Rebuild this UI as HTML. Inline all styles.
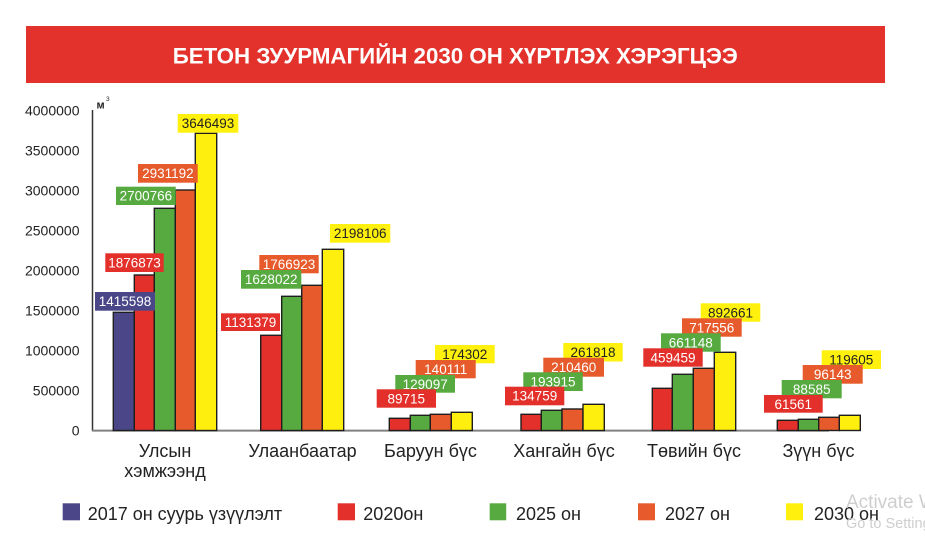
<!DOCTYPE html>
<html><head><meta charset="utf-8"><style>
html,body{margin:0;padding:0;background:#fff;}
svg{display:block;}
text{font-family:"Liberation Sans",Arial,sans-serif;}
</style></head><body>
<svg width="925" height="554" viewBox="0 0 925 554" xmlns="http://www.w3.org/2000/svg">
<rect x="0" y="0" width="925" height="554" fill="#fff"/>
<!-- title banner -->
<rect x="26" y="26" width="859" height="57" fill="#e3312b"/>
<text x="172.7" y="63.3" font-size="22.3" font-weight="bold" fill="#fff" textLength="565" lengthAdjust="spacingAndGlyphs">БЕТОН ЗУУРМАГИЙН 2030 ОН ХҮРТЛЭХ ХЭРЭГЦЭЭ</text>

<!-- y tick labels -->
<g font-size="14" fill="#222" text-anchor="end">
<text x="79.5" y="115.5">4000000</text>
<text x="79.5" y="155.5">3500000</text>
<text x="79.5" y="195.5">3000000</text>
<text x="79.5" y="235.5">2500000</text>
<text x="79.5" y="275.5">2000000</text>
<text x="79.5" y="315.5">1500000</text>
<text x="79.5" y="355.5">1000000</text>
<text x="79.5" y="395.5">500000</text>
<text x="79.5" y="435.5">0</text>
</g>
<!-- unit -->
<text x="96.5" y="108.5" font-size="11" font-weight="bold" fill="#222">м</text>
<text x="106" y="101" font-size="6.5" fill="#222">3</text>

<!-- axes -->
<line x1="92.5" y1="110" x2="92.5" y2="431" stroke="#333" stroke-width="1.5"/>
<line x1="92" y1="430.6" x2="829" y2="430.6" stroke="#808080" stroke-width="2"/>

<!-- bars -->
<g stroke="#1e1e1e" stroke-width="1.4">
<rect x="113.3" y="312.3" width="21" height="118.2" fill="#4a4687"/>
<rect x="134.3" y="275" width="20" height="155.5" fill="#e3302b"/>
<rect x="154.3" y="208.3" width="21" height="222.2" fill="#56aa3f"/>
<rect x="175.3" y="190" width="20" height="240.5" fill="#e65a2b"/>
<rect x="195.3" y="133.3" width="21.4" height="297.2" fill="#ffef0f"/>

<rect x="260.7" y="335.3" width="21" height="95.2" fill="#e3302b"/>
<rect x="281.7" y="296.3" width="20" height="134.2" fill="#56aa3f"/>
<rect x="301.7" y="285.3" width="20.6" height="145.2" fill="#e65a2b"/>
<rect x="322.3" y="249.3" width="21.4" height="181.2" fill="#ffef0f"/>

<rect x="389.3" y="418.3" width="21" height="12.2" fill="#e3302b"/>
<rect x="410.3" y="415.3" width="20" height="15.2" fill="#56aa3f"/>
<rect x="430.3" y="414.3" width="21" height="16.2" fill="#e65a2b"/>
<rect x="451.3" y="412.3" width="21" height="18.2" fill="#ffef0f"/>

<rect x="521" y="414.3" width="20.3" height="16.2" fill="#e3302b"/>
<rect x="541.3" y="410.3" width="20.7" height="20.2" fill="#56aa3f"/>
<rect x="562" y="409" width="21" height="21.5" fill="#e65a2b"/>
<rect x="583" y="404.3" width="21.3" height="26.2" fill="#ffef0f"/>

<rect x="652.3" y="388.3" width="20" height="42.2" fill="#e3302b"/>
<rect x="672.3" y="374.3" width="21" height="56.2" fill="#56aa3f"/>
<rect x="693.3" y="368.3" width="21" height="62.2" fill="#e65a2b"/>
<rect x="714.3" y="352.3" width="21.4" height="78.2" fill="#ffef0f"/>

<rect x="777.3" y="420.3" width="21" height="10.2" fill="#e3302b"/>
<rect x="798.3" y="419.3" width="20.4" height="11.2" fill="#56aa3f"/>
<rect x="818.7" y="417.3" width="20.6" height="13.2" fill="#e65a2b"/>
<rect x="839.3" y="415.3" width="21" height="15.2" fill="#ffef0f"/>
</g>

<!-- value labels -->
<g font-size="13.5" text-anchor="middle">
<!-- G1 -->
<rect x="177.7" y="114" width="60.6" height="18.7" fill="#fff10d"/><text x="208" y="128" fill="#222">3646493</text>
<rect x="138" y="164" width="59.7" height="18.7" fill="#e65a2b"/><text x="167.9" y="178" fill="#fff">2931192</text>
<rect x="116" y="186.7" width="59.7" height="18.3" fill="#56aa3f"/><text x="145.9" y="200.7" fill="#fff">2700766</text>
<rect x="105.3" y="253.3" width="58.4" height="18.7" fill="#e3302b"/><text x="134.5" y="267.3" fill="#fff">1876873</text>
<rect x="95" y="292" width="60" height="18.7" fill="#4a4687"/><text x="125" y="306" fill="#fff">1415598</text>
<!-- G2 -->
<rect x="330" y="224" width="60.3" height="18.7" fill="#fff10d"/><text x="360.2" y="238" fill="#222">2198106</text>
<rect x="259.3" y="255" width="59.4" height="18.3" fill="#e65a2b"/><text x="289" y="269" fill="#fff">1766923</text>
<rect x="241" y="270" width="60.3" height="18.7" fill="#56aa3f"/><text x="271.2" y="284" fill="#fff">1628022</text>
<rect x="221" y="313.3" width="59" height="17.7" fill="#e3302b"/><text x="250.5" y="327" fill="#fff">1131379</text>
<!-- G3 -->
<rect x="435" y="345" width="59.7" height="18.3" fill="#fff10d"/><text x="464.8" y="359" fill="#222">174302</text>
<rect x="415.7" y="360" width="60" height="18.3" fill="#e65a2b"/><text x="445.7" y="374" fill="#fff">140111</text>
<rect x="395.3" y="375" width="59.7" height="17.7" fill="#56aa3f"/><text x="425.2" y="389" fill="#fff">129097</text>
<rect x="376.7" y="389.3" width="59.3" height="18.4" fill="#e3302b"/><text x="406.3" y="403.3" fill="#fff">89715</text>
<!-- G4 -->
<rect x="563.3" y="343" width="59.4" height="18.5" fill="#fff10d"/><text x="593" y="357" fill="#222">261818</text>
<rect x="543.3" y="357.7" width="60.7" height="19" fill="#e65a2b"/><text x="573.7" y="371.8" fill="#fff">210460</text>
<rect x="523.3" y="372.3" width="59.4" height="18.7" fill="#56aa3f"/><text x="553" y="386.3" fill="#fff">193915</text>
<rect x="505" y="386.7" width="59.3" height="18.6" fill="#e3302b"/><text x="534.7" y="400.7" fill="#fff">134759</text>
<!-- G5 -->
<rect x="700.7" y="303.3" width="59.6" height="18.4" fill="#fff10d"/><text x="730.5" y="317.3" fill="#222">892661</text>
<rect x="682" y="318.3" width="59.7" height="18.4" fill="#e65a2b"/><text x="711.8" y="332.3" fill="#fff">717556</text>
<rect x="661" y="333.3" width="59.7" height="18.4" fill="#56aa3f"/><text x="690.8" y="347.3" fill="#fff">661148</text>
<rect x="643.3" y="348.3" width="59.4" height="18.4" fill="#e3302b"/><text x="673" y="362.3" fill="#fff">459459</text>
<!-- G6 -->
<rect x="821.7" y="350.3" width="59.3" height="18.7" fill="#fff10d"/><text x="851.3" y="364.3" fill="#222">119605</text>
<rect x="802.7" y="365" width="60" height="18.7" fill="#e65a2b"/><text x="832.7" y="379" fill="#fff">96143</text>
<rect x="781.7" y="380" width="60" height="18.3" fill="#56aa3f"/><text x="811.7" y="394" fill="#fff">88585</text>
<rect x="764" y="395" width="58.7" height="17.7" fill="#e3302b"/><text x="793.3" y="409" fill="#fff">61561</text>
</g>

<!-- category labels -->
<g font-size="18" fill="#222" text-anchor="middle">
<text x="165" y="457">Улсын</text>
<text x="165" y="477">хэмжээнд</text>
<text x="302.5" y="457">Улаанбаатар</text>
<text x="430.5" y="457">Баруун бүс</text>
<text x="564" y="457">Хангайн бүс</text>
<text x="694" y="457">Төвийн бүс</text>
<text x="818.5" y="457">Зүүн бүс</text>
</g>

<!-- legend -->
<rect x="62.7" y="503.3" width="17.3" height="17" fill="#4a4687"/>
<rect x="337.7" y="503.3" width="17.3" height="17" fill="#e3302b"/>
<rect x="489.7" y="503.3" width="16.5" height="17" fill="#56aa3f"/>
<rect x="638" y="503.3" width="17" height="17" fill="#e65a2b"/>
<rect x="786" y="503.3" width="17" height="17" fill="#fff10d"/>
<g font-size="18" fill="#222">
<text x="87.7" y="520">2017 он суурь үзүүлэлт</text>
<text x="363.3" y="520">2020он</text>
<text x="516" y="520">2025 он</text>
<text x="665" y="520">2027 он</text>
<text x="814" y="520">2030 он</text>
</g>

<!-- watermark -->
<text x="846" y="508" font-size="19" fill="#c9c9c9" opacity="0.9">Activate Windows</text>
<text x="846" y="528" font-size="14.5" fill="#c9c9c9" opacity="0.9">Go to Settings</text>
</svg>
</body></html>
